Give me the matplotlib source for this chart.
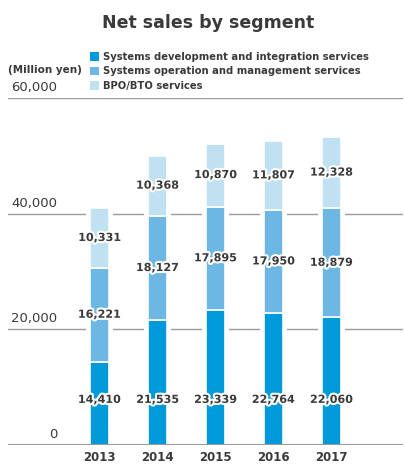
import matplotlib.pyplot as plt
import matplotlib.patheffects as pe
from matplotlib.transforms import blended_transform_factory
from matplotlib.patches import Patch
import numpy as np

years = ["2013", "2014", "2015", "2016", "2017"]
sdi = [14410, 21535, 23339, 22764, 22060]   # systems development and integration
som = [16221, 18127, 17895, 17950, 18879]   # systems operation and management
bpo = [10331, 10368, 10870, 11807, 12328]   # BPO/BTO
seg_names = ["Systems development and integration services",
             "Systems operation and management services",
             "BPO/BTO services"]
yticks = [0, 20000, 40000, 60000]

colors = ["#0099d9", "#6db7e4", "#bfe1f1"]
txt = "#3a3a3a"
grid = "#9a9a9a"

fig = plt.figure(figsize=(4.04, 4.65), dpi=100)
ax = fig.add_axes([8/404, 20/465, 395/404, 347/465])

x = np.arange(len(years))
w = 0.33
tot = np.array(sdi) + np.array(som) + np.array(bpo)

# white backdrop so gridlines break around the bars
ax.bar(x, tot, width=0.47, color="white", zorder=2)
b0 = np.zeros(len(years))
for vals, c in zip([sdi, som, bpo], colors):
    ax.bar(x, vals, width=w, bottom=b0, color=c, edgecolor="white", linewidth=1.2, zorder=3)
    b0 = b0 + np.array(vals)

halo = [pe.withStroke(linewidth=3, foreground="white")]
lab_kw = dict(ha="center", va="center", fontsize=8, fontweight="bold", color=txt,
              path_effects=halo, zorder=5)
for i in range(len(years)):
    ax.text(x[i], 7800, f"{sdi[i]:,}", **lab_kw)
    ax.text(x[i], sdi[i] + som[i] / 2, f"{som[i]:,}", **lab_kw)
    ax.text(x[i], sdi[i] + som[i] + bpo[i] / 2, f"{bpo[i]:,}", **lab_kw)

ax.set_xlim(-1.578, 5.233)
ax.set_ylim(0, 60000)
for yv in yticks[1:]:
    ax.axhline(yv, color=grid, lw=1, zorder=1)
ax.axhline(0, color=grid, lw=1.5, zorder=4)

trans = blended_transform_factory(ax.transAxes, ax.transData)
for yv in yticks:
    ax.annotate(f"{yv:,}", xy=(49/395, yv), xycoords=trans, xytext=(0, 3),
                textcoords="offset points", ha="right", va="bottom",
                fontsize=9.5, color=txt)

for s in ax.spines.values():
    s.set_visible(False)
ax.set_yticks([])
ax.set_xticks(x)
ax.set_xticklabels(years, fontsize=8.5, fontweight="bold", color=txt)
ax.tick_params(axis="x", length=0, pad=4)

fig.text(208/404, 1 - 23/465, "Net sales by segment", ha="center", va="center",
         fontsize=12.5, fontweight="bold", color=txt)
fig.text(8/404, 1 - 70/465, "(Million yen)", ha="left", va="center",
         fontsize=7.5, fontweight="bold", color=txt)

handles = [Patch(facecolor=c, edgecolor="none") for c in colors]
leg = fig.legend(handles, seg_names, loc="upper left", bbox_to_anchor=(90/404, 1 - 52/465),
                 frameon=False, prop={"weight": "bold", "size": 7.2},
                 handlelength=0.9, handleheight=0.9, handletextpad=0.4,
                 labelspacing=0.45, borderpad=0, borderaxespad=0)
for t in leg.get_texts():
    t.set_color(txt)

fig.savefig("out.png", dpi=100)
